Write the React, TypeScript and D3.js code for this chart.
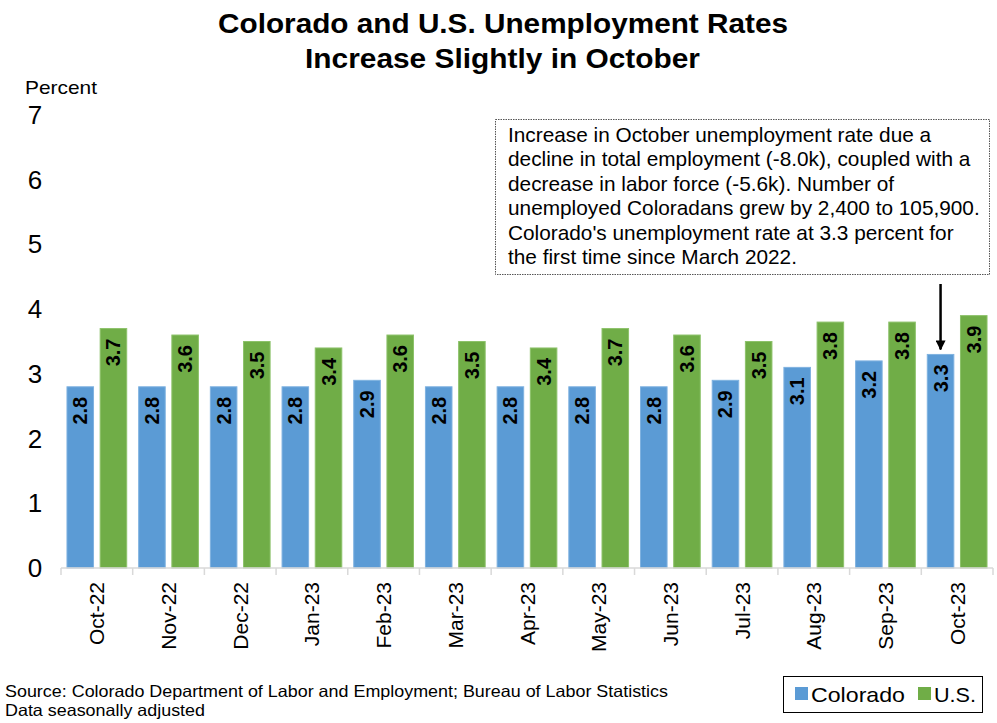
import React from "react";
import * as d3 from "d3";

const months = [
  "Oct-22", "Nov-22", "Dec-22", "Jan-23", "Feb-23", "Mar-23", "Apr-23",
  "May-23", "Jun-23", "Jul-23", "Aug-23", "Sep-23", "Oct-23",
];
const colorado = [2.8, 2.8, 2.8, 2.8, 2.9, 2.8, 2.8, 2.8, 2.8, 2.9, 3.1, 3.2, 3.3];
const us = [3.7, 3.6, 3.5, 3.4, 3.6, 3.5, 3.4, 3.7, 3.6, 3.5, 3.8, 3.8, 3.9];
const yTicks = [0, 1, 2, 3, 4, 5, 6, 7];
const noteLines = [
  "Increase in October unemployment rate due a",
  "decline in total employment (-8.0k), coupled with a",
  "decrease in labor force (-5.6k). Number of",
  "unemployed Coloradans grew by 2,400 to 105,900.",
  "Colorado's unemployment rate at 3.3 percent for",
  "the first time since March 2022.",
];

const W = 997;
const H = 723;
const plot = { left: 61, right: 993, top: 115, bottom: 568 };
const font = "'Liberation Sans', Arial, sans-serif";
const BLUE = "#5b9bd5";
const GREEN = "#70ad47";

export default function App() {
  const x = d3.scaleBand<string>().domain(months).range([plot.left, plot.right]);
  const inner = d3
    .scaleBand<string>()
    .domain(["co", "us"])
    .range([0, x.bandwidth()])
    .paddingInner(0.2)
    .paddingOuter(0.18);
  const y = d3.scaleLinear().domain([0, 7]).range([plot.bottom, plot.top]);

  const series = [
    { key: "co", values: colorado, color: BLUE, stroke: "#7fb2e0" },
    { key: "us", values: us, color: GREEN, stroke: "#8dc26a" },
  ];

  const last = months[months.length - 1];
  const arrowX = (x(last) as number) + (inner("co") as number) + inner.bandwidth() / 2;

  return (
    <svg width={W} height={H} style={{ position: "absolute", left: 0, top: 0, background: "#fff" }}>
      <defs>
        <marker id="head" viewBox="0 0 10 10" refX="9" refY="5" markerWidth="4" markerHeight="4" orient="auto">
          <path d="M0,0 L10,5 L0,10 z" fill="#000" />
        </marker>
      </defs>

      {/* title */}
      <g fontFamily={font} fontWeight="bold" fontSize={28}>
        <text x={218} y={33} textLength={570} lengthAdjust="spacingAndGlyphs">
          Colorado and U.S. Unemployment Rates
        </text>
        <text x={305} y={68} textLength={395} lengthAdjust="spacingAndGlyphs">
          Increase Slightly in October
        </text>
      </g>

      <text x={25} y={94} fontFamily={font} fontSize={19} textLength={72} lengthAdjust="spacingAndGlyphs">
        Percent
      </text>

      {/* y axis labels */}
      {yTicks.map((t) => (
        <text key={t} x={35} y={y(t) + 9} fontFamily={font} fontSize={26} textAnchor="middle">
          {t}
        </text>
      ))}

      {/* bars */}
      {series.map((s) =>
        s.values.map((v, i) => {
          const bx = (x(months[i]) as number) + (inner(s.key) as number);
          const cx = bx + inner.bandwidth() / 2;
          return (
            <g key={s.key + i}>
              <rect
                x={bx}
                y={y(v)}
                width={inner.bandwidth()}
                height={plot.bottom - y(v)}
                fill={s.color}
                stroke={s.stroke}
                strokeWidth={1}
              />
              <text
                transform={`translate(${cx + 7},${y(v) + 10}) rotate(-90)`}
                fontFamily={font}
                fontWeight="bold"
                fontSize={20}
                textAnchor="end"
              >
                {v.toFixed(1)}
              </text>
            </g>
          );
        })
      )}

      {/* x axis */}
      <line x1={plot.left} x2={plot.right} y1={plot.bottom} y2={plot.bottom} stroke="#d9d9d9" strokeWidth={1.5} />
      {months.concat(["end"]).map((m, i) => {
        const tx = plot.left + i * x.bandwidth();
        return <line key={"t" + i} x1={tx} x2={tx} y1={plot.bottom} y2={plot.bottom + 7} stroke="#d9d9d9" strokeWidth={1.5} />;
      })}
      {months.map((m) => {
        const cx = (x(m) as number) + x.bandwidth() / 2;
        return (
          <text
            key={m}
            transform={`translate(${cx + 7.5},${plot.bottom + 14}) rotate(-90)`}
            fontFamily={font}
            fontSize={21}
            textAnchor="end"
          >
            {m}
          </text>
        );
      })}

      {/* annotation */}
      <rect x={495.5} y={119.5} width={494} height={155} fill="#fff" stroke="#555" strokeWidth={1} strokeDasharray="1.5 1" />
      {noteLines.map((l, i) => (
        <text key={i} x={508} y={142 + i * 24.4} fontFamily={font} fontSize={20.8}>
          {l}
        </text>
      ))}
      <line x1={arrowX} x2={arrowX} y1={284} y2={y(3.3) - 5} stroke="#000" strokeWidth={2.5} markerEnd="url(#head)" />

      {/* source */}
      <g fontFamily={font} fontSize={16.5}>
        <text x={5} y={697} textLength={663} lengthAdjust="spacingAndGlyphs">
          Source: Colorado Department of Labor and Employment; Bureau of Labor Statistics
        </text>
        <text x={5} y={716} textLength={200} lengthAdjust="spacingAndGlyphs">
          Data seasonally adjusted
        </text>
      </g>

      {/* legend */}
      <rect x={783.5} y={676.5} width={199} height={36} fill="#fff" stroke="#000" strokeWidth={1} />
      <rect x={795} y={687} width={13} height={13} fill={BLUE} />
      <text x={811} y={702} fontFamily={font} fontSize={21} textLength={94} lengthAdjust="spacingAndGlyphs">
        Colorado
      </text>
      <rect x={918} y={687} width={13} height={13} fill={GREEN} />
      <text x={934} y={702} fontFamily={font} fontSize={21} textLength={42} lengthAdjust="spacingAndGlyphs">
        U.S.
      </text>
    </svg>
  );
}
